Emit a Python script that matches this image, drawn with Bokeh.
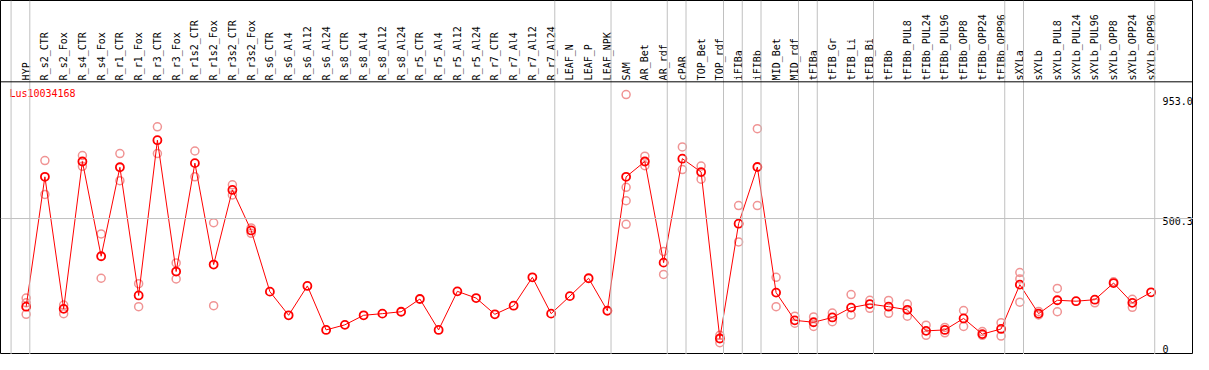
import numpy as np
from bokeh.plotting import figure
from bokeh.models import Range1d, Span
from bokeh.core.properties import value
from bokeh.embed import file_html
from bokeh.resources import INLINE

# ---------------- data ----------------
gene_name = "Lus10034168"

categories = [
    "HYP", "R_s2_CTR", "R_s2_Fox", "R_s4_CTR", "R_s4_Fox", "R_r1_CTR", "R_r1_Fox",
    "R_r3_CTR", "R_r3_Fox", "R_r1s2_CTR", "R_r1s2_Fox", "R_r3s2_CTR", "R_r3s2_Fox",
    "R_s6_CTR", "R_s6_Al4", "R_s6_Al12", "R_s6_Al24", "R_s8_CTR", "R_s8_Al4",
    "R_s8_Al12", "R_s8_Al24", "R_r5_CTR", "R_r5_Al4", "R_r5_Al12", "R_r5_Al24",
    "R_r7_CTR", "R_r7_Al4", "R_r7_Al12", "R_r7_Al24", "LEAF_N", "LEAF_P", "LEAF_NPK",
    "SAM", "AR_Bet", "AR_rdf", "cPAR", "TOP_Bet", "TOP_rdf", "iFIBa", "iFIBb",
    "MID_Bet", "MID_rdf", "tFIBa", "tFIB_Gr", "tFIB_Li", "tFIB_Bi", "tFIBb",
    "tFIBb_PUL8", "tFIBb_PUL24", "tFIBb_PUL96", "tFIBb_OPP8", "tFIBb_OPP24", "tFIBb_OPP96",
    "sXYLa", "sXYLb", "sXYLb_PUL8", "sXYLb_PUL24", "sXYLb_PUL96", "sXYLb_OPP8",
    "sXYLb_OPP24", "sXYLb_OPP96",
]

means = [
    166.6, 658.2, 158.3, 716.2, 357.5, 694.4, 209.0, 797.0, 299.6, 710.0, 326.0, 608.6, 455.3,
    223.5, 134.0, 245.2, 78.6, 97.8, 134.0, 140.2, 147.4, 195.6, 78.6, 224.6, 199.2,
    137.7, 170.3, 277.8, 140.2, 206.5, 274.2, 151.1,
    658.2, 716.2, 333.3, 727.0, 676.3, 46.0, 480.7, 695.5, 219.9, 114.8,
    107.6, 125.7, 163.0, 176.4, 166.6,
    154.7, 75.0, 78.6, 122.1, 62.7, 82.2,
    250.0, 140.2, 190.9, 187.3, 193.1, 256.1, 181.1, 221.0,
]

replicates = [
    [199.2, 181.1, 137.7], [719.8, 591.6], [172.8, 140.2], [739.0, 698.1], [441.9, 274.2],
    [746.2, 643.7], [253.6, 166.6], [847.7, 746.2], [332.2, 271.7], [756.0, 658.2],
    [484.3, 170.3], [627.8, 589.4], [464.8, 444.5],
    [], [], [], [], [], [], [], [], [], [], [], [], [], [], [], [], [], [], [],
    [969.7, 618.4, 567.6, 478.2], [736.5, 700.2], [375.7, 288.7], [771.6, 685.7],
    [699.1, 649.5], [58.0, 30.1], [549.5, 411.9], [840.4, 549.5], [277.8, 166.6],
    [130.4, 104.0], [127.9, 91.6], [142.4, 109.8], [212.6, 135.1], [190.9, 160.5],
    [190.2, 141.3], [176.4, 130.4], [96.7, 58.0], [88.0, 67.7], [152.1, 91.6],
    [72.5, 58.0], [106.1, 55.4], [296.0, 271.7, 183.7], [148.5, 135.1], [235.5, 147.4],
    [], [181.1], [260.8], [194.5, 164.1], [],
]

group_starts = ["HYP", "R_s2_CTR", "LEAF_N", "SAM", "cPAR", "TOP_Bet", "iFIBa", "iFIBb",
                "MID_Bet", "tFIBa", "tFIB_Gr", "tFIBb", "sXYLa", "sXYLb"]

y_tick_values = [0.0, 500.3, 953.0]
y_tick_labels = ["0", "500.3", "953.0"]

# ---------------- layout ----------------
W, H = 1193, 354
n = len(categories)
idx = np.arange(n)

# reference geometry: category pitch 19px, first point at 26px; 0 at 366px, 0.27605 px/unit
X_START = -26 / 19
X_END = (1209 - 26) / 19
Y_SCALE = 0.27605
Y0 = 366.0

def ypx(py):
    return (Y0 - py) / Y_SCALE

FONT = value("DejaVu Sans Mono")
SEP_OFF = 0.805

p = figure(width=W, height=H, output_backend="svg", toolbar_location=None,
           x_range=Range1d(X_START, X_END), y_range=Range1d(ypx(370), ypx(0)),
           x_axis_location=None, y_axis_location=None, min_border=0,
           outline_line_color="black", outline_line_width=1,
           background_fill_color="white", border_fill_color="white")
p.grid.visible = False

# group separators
cat_pos = {c: i for i, c in enumerate(categories)}
for g in group_starts:
    p.add_layout(Span(location=cat_pos[g] - SEP_OFF, dimension="height",
                      line_color="#c0c0c0", line_width=1))
p.add_layout(Span(location=n - SEP_OFF, dimension="height",
                  line_color="#c0c0c0", line_width=1))

# mid grid line
p.add_layout(Span(location=y_tick_values[1], dimension="width",
                  line_color="#c0c0c0", line_width=1))
# header boundary
p.add_layout(Span(location=ypx(85), dimension="width", line_color="black", line_width=1))

# category labels
p.text(x=idx, y=[ypx(83.5)] * n, text=categories, angle=np.pi / 2,
       text_align="left", text_baseline="middle", text_font=FONT,
       text_font_size="10px", text_color="black")

# title
p.text(x=[X_START + 9 / 19], y=[ypx(91)], text=[gene_name], text_align="left",
       text_baseline="top", text_font=FONT, text_font_size="10px", text_color="red")

# replicates
rx, ry = [], []
for i, reps in enumerate(replicates):
    for v in reps:
        rx.append(i)
        ry.append(v)
p.scatter(rx, ry, marker="circle", size=8, fill_color=None,
          line_color="#f09494", line_width=1.5)

# mean line + markers
p.line(idx, means, line_color="red", line_width=1)
p.scatter(idx, means, marker="circle", size=8, fill_color=None,
          line_color="red", line_width=1.8)

# value labels on the right
lab_x = n - SEP_OFF + 8 / 19
p.text(x=[lab_x, lab_x], y=y_tick_values[1:], text=y_tick_labels[1:],
       text_align="left", text_baseline="top", y_offset=-2,
       text_font=FONT, text_font_size="10px", text_color="black")
p.text(x=[lab_x], y=[max(y_tick_values[0], ypx(366))], text=y_tick_labels[:1],
       text_align="left", text_baseline="bottom", y_offset=2,
       text_font=FONT, text_font_size="10px", text_color="black")

open("out.html", "w").write(file_html(p, INLINE))
